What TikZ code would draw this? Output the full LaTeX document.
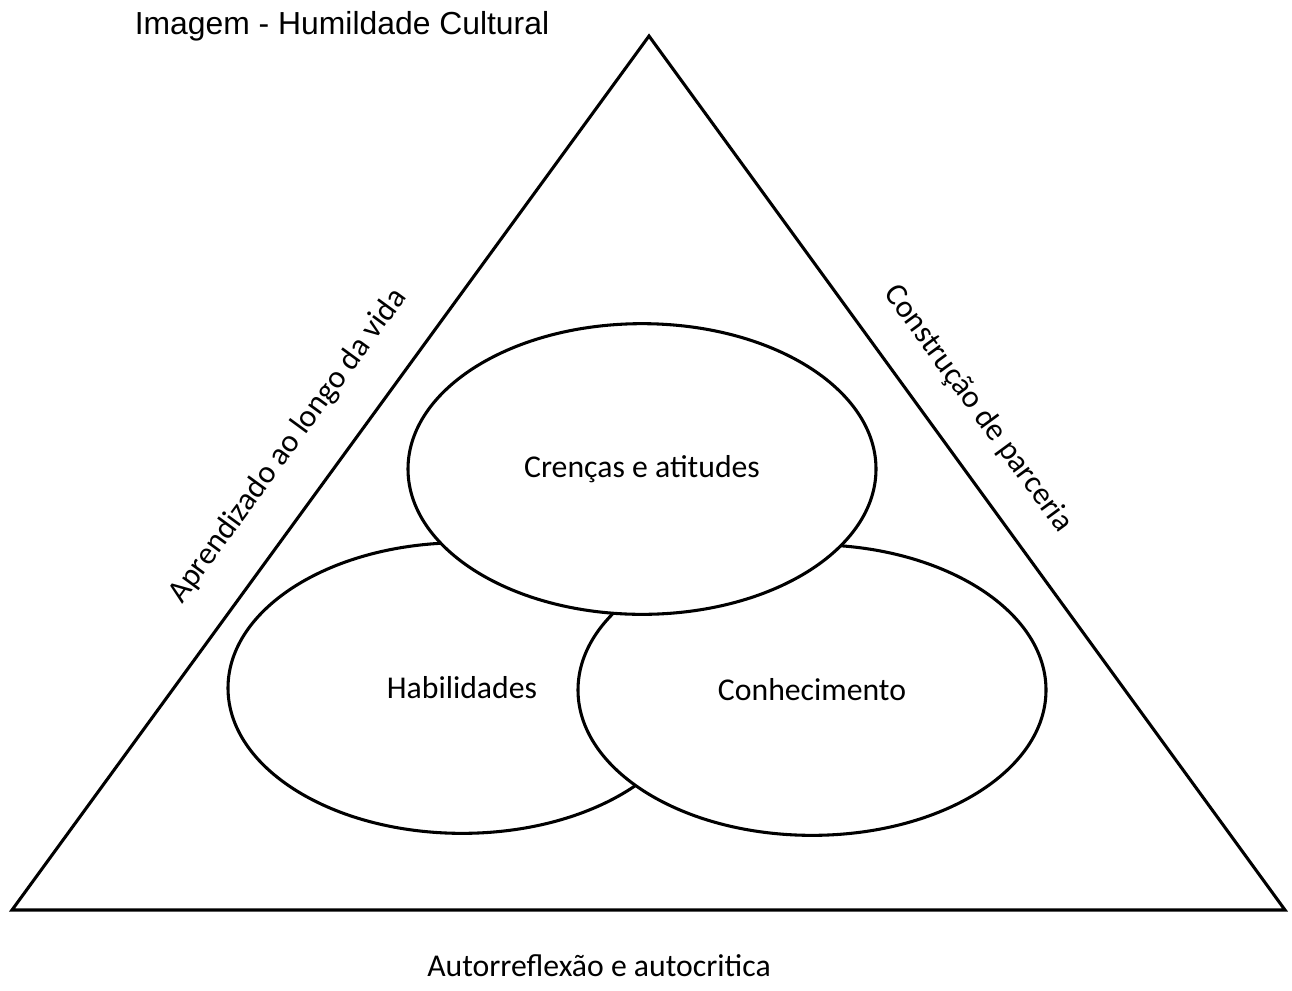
\documentclass[tikz,border=0pt]{standalone}
\usepackage{fontspec}
\setmainfont{Carlito}
\newfontfamily\arialfont{Liberation Sans}
\usetikzlibrary{shapes.geometric}

\tikzset{
  bubble/.style={ellipse,draw,line width=2.3pt,fill=white,inner sep=0pt,
    minimum width=351pt,minimum height=218pt,font=\fontsize{23.8}{28}\selectfont},
  sidelabel/.style={font=\fontsize{23.8}{28}\selectfont}
}

\begin{document}
\begin{tikzpicture}[x=0.75pt,y=-0.75pt]
\useasboundingbox (0,0) rectangle (1292,990);
\coordinate (apex) at (649,36);
\coordinate (bl) at (12,910);
\coordinate (br) at (1285,910);
\draw[line width=2.3pt,line join=miter] (bl) -- (apex) -- (br) -- cycle;
\node[bubble] (hab) at (462,688) {Habilidades};
\node[bubble] (con) at (812,690) {Conhecimento};
\node[bubble] (cre) at (642,469) {Crenças e atitudes};
\node[sidelabel,rotate=53.8] (apr) at (288,446) {Aprendizado ao longo da vida};
\node[sidelabel,rotate=-53.8] (par) at (978,409) {Construção de parceria};
\node[sidelabel] (aut) at (599,966) {Autorreflexão e autocritica};
\node[font=\arialfont\fontsize{23.9}{28}\selectfont] (tit) at (342,26) {Imagem - Humildade Cultural};
\end{tikzpicture}
\end{document}
